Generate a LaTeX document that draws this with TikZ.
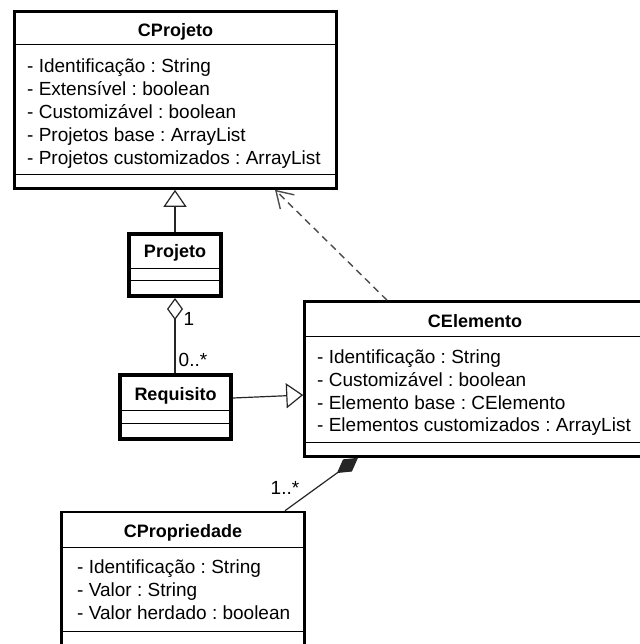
\documentclass[tikz,border=0pt]{standalone}
\usepackage{fontspec}
\setmainfont{Liberation Sans}
\usetikzlibrary{arrows.meta,positioning}
\frenchspacing

\begin{document}
\begin{tikzpicture}[x=1pt,y=-1pt,
    classbox/.style={draw,rectangle,line width=2.6pt,fill=white,inner sep=0pt},
    boldbox/.style={classbox,line width=4pt},
    title/.style={font=\bfseries\fontsize{18}{22}\selectfont,text height=13pt,text depth=0pt,inner sep=0pt},
    attr/.style={font=\fontsize{19}{23}\selectfont,anchor=west,text height=13.6pt,text depth=0pt,inner sep=0pt},
    mult/.style={font=\fontsize{19}{23}\selectfont,text height=13.6pt,text depth=0pt,inner sep=0pt},
    sep/.style={line width=1pt},
    link/.style={line width=1.2pt,black!85},
    dep/.style={line width=1.4pt,black!70,dash pattern=on 7pt off 5pt}]
    \fill[white] (0,0) rectangle (639,644);
    \useasboundingbox (0,0) rectangle (639,644);

    % CProjeto
    \node[classbox,minimum width=322pt,minimum height=177pt] (cprojeto) at (175.5,100) {};
    \node[title] (cprojetoname) at (175.5,30) {CProjeto};
    \draw[sep] (13,45) -- (338,45);
    \draw[sep] (13,175) -- (338,175);
    \foreach \t [count=\i from 0] in {Identificação : String,Extensível : boolean,Customizável : boolean,Projetos base : ArrayList,Projetos customizados : ArrayList}
        \node[attr] (cprojeto\i) at (27,66+23*\i) {- \t};

    % Projeto
    \node[boldbox,minimum width=92pt,minimum height=62pt] (projeto) at (175,265) {};
    \node[title] (projetoname) at (175,251) {Projeto};
    \draw[sep] (127,268) -- (223,268);
    \draw[sep] (127,280) -- (223,280);

    % Requisito
    \node[boldbox,minimum width=111pt,minimum height=64pt] (requisito) at (175.5,407) {};
    \node[title] (requisitoname) at (175.5,393.5) {Requisito};
    \draw[sep] (118,410) -- (233,410);
    \draw[sep] (118,423) -- (233,423);

    % CElemento
    \node[classbox,minimum width=341pt,minimum height=155pt] (celemento) at (475,379) {};
    \node[title] (celementoname) at (475,320.5) {CElemento};
    \draw[sep] (303,336) -- (647,336);
    \draw[sep] (303,442) -- (647,442);
    \foreach \t [count=\i from 0] in {Identificação : String,Customizável : boolean,Elemento base : CElemento,Elementos customizados : ArrayList}
        \node[attr] (celemento\i) at (317,357+22.7*\i) {- \t};

    % CPropriedade
    \node[classbox,minimum width=243pt,minimum height=152pt] (cpropriedade) at (183,588) {};
    \node[title] (cpropriedadename) at (183,531) {CPropriedade};
    \draw[sep] (60,547) -- (306,547);
    \draw[sep] (60,631) -- (306,631);
    \foreach \t [count=\i from 0] in {Identificação : String,Valor : String,Valor herdado : boolean}
        \node[attr] (cpropriedade\i) at (77,567+23*\i) {- \t};

    % Generalizations
    \draw[link,-{Triangle[open,length=17pt,width=23pt]}] (projeto.north) -- (projeto.north |- cprojeto.south);
    \draw[link,-{Triangle[open,length=17pt,width=25pt]}] ([yshift=9pt]requisito.east) -- ([yshift=-16pt]celemento.west);

    % Aggregation
    \draw[link,{Diamond[open,length=22pt,width=16pt]}-] (projeto.south) -- (projeto.south |- requisito.north);
    \node[mult] (aggone) at (189,318.5) {1};
    \node[mult] (aggmany) at (193,359.5) {0..*};

    % Dependency
    \draw[dep,-{Straight Barb[length=16pt,width=20pt]}] ([xshift=-88pt]celemento.north) -- ([xshift=99.5pt]cprojeto.south);

    % Composition
    \draw[link,{Diamond[length=26pt,width=15pt]}-] ([xshift=-117pt]celemento.south) -- ([xshift=102pt]cpropriedade.north);
    \node[mult] (compmany) at (285,487.5) {1..*};
\end{tikzpicture}
\end{document}
